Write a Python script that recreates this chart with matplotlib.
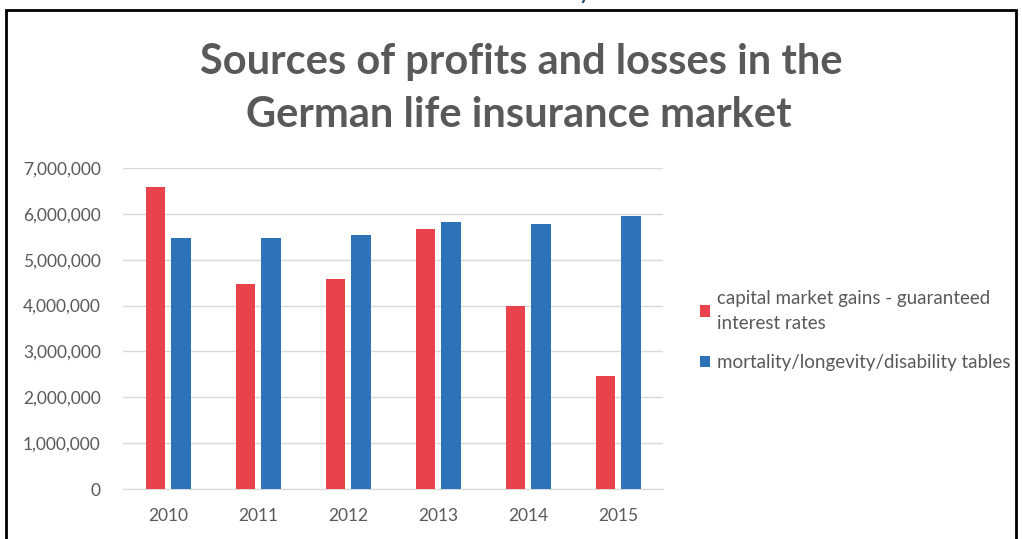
import numpy as np
import matplotlib
matplotlib.use("Agg")
import matplotlib.pyplot as plt
from matplotlib.patches import Rectangle
from matplotlib.ticker import FuncFormatter

# values
years = ["2010", "2011", "2012", "2013", "2014", "2015"]
capital_gains = [6580000, 4480000, 4570000, 5680000, 4000000, 2470000]
mortality_tables = [5480000, 5480000, 5540000, 5820000, 5770000, 5960000]
series_labels = ["capital market gains - guaranteed\ninterest rates",
                 "mortality/longevity/disability tables"]
y_ticks = [0, 1000000, 2000000, 3000000, 4000000, 5000000, 6000000, 7000000]

RED = "#E9424A"
BLUE = "#2E73B8"
GREY = "#595959"

plt.rcParams["font.family"] = ["Lato", "DejaVu Sans"]

fig = plt.figure(figsize=(10.22, 5.39), dpi=100)
ax = fig.add_axes([123 / 1022, 1 - 489 / 539, 540 / 1022, 321 / 539])

x = np.arange(len(years))
ax.bar(x - 0.14, capital_gains, width=0.22, color=RED, label=series_labels[0], zorder=3)
ax.bar(x + 0.14, mortality_tables, width=0.22, color=BLUE, label=series_labels[1], zorder=3)

ax.set_xlim(-0.5, len(years) - 0.5)
ax.set_ylim(0, 7000000)
ax.set_yticks(y_ticks)
ax.yaxis.set_major_formatter(FuncFormatter(lambda v, p: f"{int(v):,}"))
ax.set_xticks(x)
ax.set_xticklabels(years)
ax.tick_params(axis="both", length=0, colors=GREY, labelsize=12.5)
ax.tick_params(axis="y", pad=16)
ax.tick_params(axis="x", pad=14)
ax.grid(axis="y", color="#D9D9D9", linewidth=1, zorder=0)
for side in ["top", "right", "left"]:
    ax.spines[side].set_visible(False)
ax.spines["bottom"].set_color("#D9D9D9")

fig.text(521 / 1022, 1 - 62 / 539, "Sources of profits and losses in the",
         ha="center", va="center", fontsize=30, fontweight="bold", color=GREY)
fig.text(519 / 1022, 1 - 115 / 539, "German life insurance market",
         ha="center", va="center", fontsize=30, fontweight="bold", color=GREY)

leg = fig.legend(loc="upper left", bbox_to_anchor=(683 / 1022, 1 - 273 / 539),
                 frameon=False, fontsize=13.5, handlelength=0.55, handleheight=0.55,
                 handletextpad=0.35, labelspacing=1.2, labelcolor=GREY)
for t in leg.get_texts():
    t.set_linespacing(1.55)

# slide frame and the cut-off heading above it
fig.patches.append(Rectangle((6 / 1022, -0.05), 1010 / 1022, 1.05 - 10 / 539,
                             transform=fig.transFigure, fill=False,
                             edgecolor="black", linewidth=2))
fig.text(578 / 1022, 1.003, "y", color="#1F4E79", fontsize=20, va="baseline")

fig.savefig("out.png", dpi=100)
